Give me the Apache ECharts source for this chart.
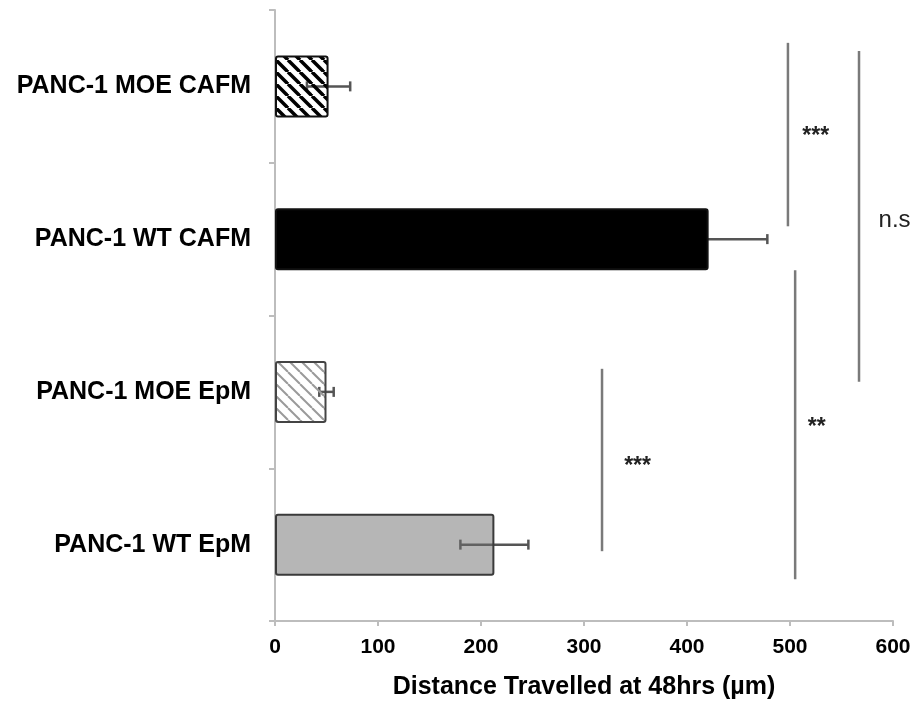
<!DOCTYPE html>
<html>
<head>
<meta charset="utf-8">
<script src="https://cdn.jsdelivr.net/npm/echarts@6/dist/echarts.min.js"></script>
<style>
html,body{margin:0;padding:0;background:#fff;}
#chart{width:915px;height:705px;}
</style>
</head>
<body>
<div id="chart"></div>
<script>
// ---- data ----
const categories = ['PANC-1 MOE CAFM', 'PANC-1 WT CAFM', 'PANC-1 MOE EpM', 'PANC-1 WT EpM'];
const means = [52, 421, 50, 213];
const errors = [21, 57, 7, 33];
const xTicks = [0, 100, 200, 300, 400, 500, 600];
const axisTitle = 'Distance Travelled at 48hrs (µm)';

// significance brackets: x value, from / to (category-index units, 0 = top bar)
const sigLineX = [498, 567, 505, 317.5];
const sigLineFrom = [-0.285, -0.232, 1.203, 1.849];
const sigLineTo = [0.916, 1.934, 3.226, 3.043];
// significance labels
const sigText = ['***', 'n.s', '**', '***'];
const sigTextX = [525, 586, 526, 352];
const sigTextY = [0.296, 0.888, 2.201, 2.456];

// ---- styling helpers ----
function hatch(lineColor, lw, gap) {
  const c = document.createElement('canvas');
  c.width = gap; c.height = gap;
  const ctx = c.getContext('2d');
  ctx.strokeStyle = lineColor; ctx.lineWidth = lw;
  for (const k of [-gap, 0, gap]) {
    ctx.beginPath(); ctx.moveTo(k, 0); ctx.lineTo(k + gap, gap); ctx.stroke();
  }
  return c;
}
const barStyles = [
  { color: { image: hatch('#000000', 3.5, 12), repeat: 'repeat' }, borderColor: '#111', borderWidth: 2 },
  { color: '#000000', borderColor: '#111', borderWidth: 2 },
  { color: { image: hatch('#9a9a9a', 2, 12), repeat: 'repeat' }, borderColor: '#444', borderWidth: 2 },
  { color: 'rgba(110,110,110,0.5)', borderColor: '#3a3a3a', borderWidth: 2 }
];

const chart = echarts.init(document.getElementById('chart'));
const font = '"Liberation Sans", Arial, sans-serif';

chart.setOption({
  animation: false,
  backgroundColor: '#fff',
  grid: { left: 275, right: 22, top: 10, bottom: 82, containLabel: false },
  xAxis: {
    type: 'value', min: xTicks[0], max: xTicks[xTicks.length - 1], interval: xTicks[1] - xTicks[0],
    name: axisTitle, nameLocation: 'middle', nameGap: 54,
    nameTextStyle: { fontFamily: font, fontWeight: 'bold', fontSize: 25, color: '#000' },
    axisLine: { show: true, onZero: false, lineStyle: { color: '#bdbdbd', width: 2 } },
    axisTick: { show: true, length: 5, lineStyle: { color: '#bdbdbd', width: 2 } },
    axisLabel: { fontFamily: font, fontWeight: 'bold', fontSize: 21, color: '#000', margin: 16 },
    splitLine: { show: false }
  },
  yAxis: [{
    type: 'category', data: categories, inverse: true,
    axisLine: { show: true, lineStyle: { color: '#bdbdbd', width: 2 } },
    axisTick: { show: true, length: 6, lineStyle: { color: '#bdbdbd', width: 2 } },
    axisLabel: { fontFamily: font, fontWeight: 'bold', fontSize: 25, color: '#000', margin: 24 },
    splitLine: { show: false }
  }, {
    type: 'value', min: -0.5, max: 3.5, inverse: true, show: false, splitLine: { show: false }
  }],
  series: [
    {
      type: 'custom', yAxisIndex: 0, z: 1,
      data: categories.map((c, i) => [i, means[i] - errors[i], means[i] + errors[i]]),
      encode: { x: [1, 2], y: 0 },
      renderItem: function (params, api) {
        const lo = api.coord([api.value(1), api.value(0)]);
        const hi = api.coord([api.value(2), api.value(0)]);
        const h = 5;
        const st = { stroke: '#555', lineWidth: 2.5 };
        return { type: 'group', children: [
          { type: 'line', shape: { x1: lo[0], y1: lo[1], x2: hi[0], y2: hi[1] }, style: st },
          { type: 'line', shape: { x1: lo[0], y1: lo[1] - h, x2: lo[0], y2: lo[1] + h }, style: st },
          { type: 'line', shape: { x1: hi[0], y1: hi[1] - h, x2: hi[0], y2: hi[1] + h }, style: st }
        ]};
      }
    },
    {
      type: 'bar', yAxisIndex: 0, barWidth: 62,
      data: means.map((v, i) => ({ value: v, itemStyle: barStyles[i] })),
      itemStyle: { borderRadius: 2 },
      z: 2
    },
    {
      type: 'custom', yAxisIndex: 1, z: 5, clip: false,
      data: sigLineX.map((x, i) => [x, sigLineFrom[i], sigLineTo[i]]),
      encode: { x: 0, y: [1, 2] },
      renderItem: function (params, api) {
        const a = api.coord([api.value(0), api.value(1)]);
        const b = api.coord([api.value(0), api.value(2)]);
        return { type: 'line', shape: { x1: a[0], y1: a[1], x2: b[0], y2: b[1] },
          style: { stroke: '#7a7a7a', lineWidth: 2.5 } };
      }
    },
    {
      type: 'custom', yAxisIndex: 1, z: 6, clip: false,
      data: sigText.map((t, i) => [sigTextX[i], sigTextY[i], i]),
      encode: { x: 0, y: 1 },
      renderItem: function (params, api) {
        const i = api.value(2);
        const p = api.coord([api.value(0), api.value(1)]);
        const t = sigText[i];
        const star = t.indexOf('*') >= 0;
        const fs = star ? 23 : 24;
        const dy = star ? fs * 0.22 : -fs * 0.08;
        return { type: 'text', style: {
          text: t, x: p[0], y: p[1] + dy,
          align: star ? 'center' : 'left', verticalAlign: 'middle',
          fill: '#222', font: (star ? 'bold ' : 'normal ') + fs + 'px ' + font
        } };
      }
    }
  ]
});
</script>
</body>
</html>
